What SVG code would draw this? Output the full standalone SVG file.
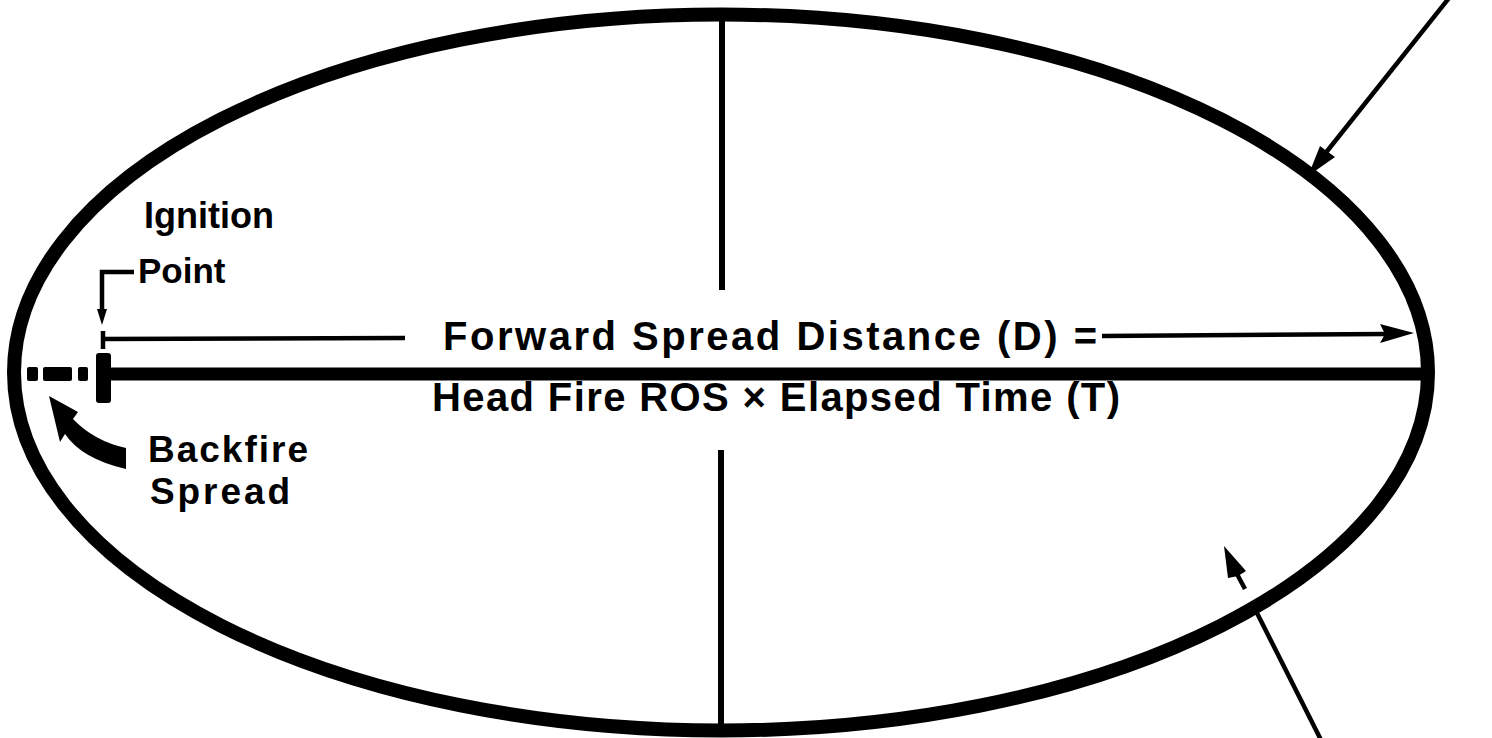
<svg xmlns="http://www.w3.org/2000/svg" width="1492" height="738" viewBox="0 0 1492 738">
  <style>
    .lbl { font-family: "Liberation Sans", Arial, sans-serif; font-weight: bold; fill: #000; }
    .thin { stroke: #000; stroke-width: 4.5; fill: none; }
    .axis { stroke: #000; stroke-width: 6; fill: none; }
  </style>
  <rect x="0" y="0" width="1492" height="738" fill="#fff"/>
  <g id="ellipse">
    <ellipse cx="721" cy="372.5" rx="707" ry="358" fill="none" stroke="#000" stroke-width="14"/>
  </g>
  <g id="minor-axis">
    <line class="axis" x1="722" y1="16" x2="722" y2="290"/>
    <line class="axis" x1="721" y1="450" x2="721" y2="728"/>
  </g>
  <g id="major-axis">
    <line x1="111" y1="374" x2="1428" y2="374" stroke="#000" stroke-width="13"/>
    <rect x="96" y="353" width="15" height="50" rx="3" fill="#000"/>
    <rect x="27" y="367" width="11" height="14" rx="2" fill="#000"/>
    <rect x="43" y="367" width="29" height="14" rx="2" fill="#000"/>
    <rect x="78" y="367" width="10" height="14" rx="2" fill="#000"/>
  </g>
  <g id="forward-distance">
    <line class="thin" x1="103" y1="339" x2="405" y2="338" stroke-width="3.5"/>
    <line class="thin" x1="103" y1="331" x2="103" y2="349" stroke-width="3.5"/>
    <line class="thin" x1="1102" y1="336" x2="1386" y2="334" stroke-width="3.5"/>
    <polygon points="1380,324 1414,333 1380,343 1385,334" fill="#000"/>
    <text class="lbl" x="443" y="350" font-size="40" textLength="654" lengthAdjust="spacing">Forward Spread Distance (D) =</text>
    <text class="lbl" x="432" y="411" font-size="40" textLength="688" lengthAdjust="spacing">Head Fire ROS × Elapsed Time (T)</text>
  </g>
  <g id="ignition-point">
    <polyline class="thin" points="134,272 102,272 102,312" stroke-width="3.5"/>
    <polygon points="97,309 107,309 102,325" fill="#000"/>
    <text class="lbl" x="144" y="228" font-size="36">Ignition</text>
    <text class="lbl" x="138" y="283" font-size="35">Point</text>
  </g>
  <g id="backfire">
    <path d="M49,396 L78,412 L73,419 Q94,441 126,448 L126,469 Q82,459 65,434 L60,442 Z" fill="#000"/>
    <text class="lbl" x="148" y="462" font-size="37" textLength="160" lengthAdjust="spacing">Backfire</text>
    <text class="lbl" x="150" y="504" font-size="37" textLength="140" lengthAdjust="spacing">Spread</text>
  </g>
  <g id="connectors">
    <line class="thin" x1="1449" y1="-2" x2="1324" y2="155"/>
    <polygon points="1308,176 1320,146 1328,152 1335,157" fill="#000"/>
    <line class="thin" x1="1245" y1="589" x2="1237" y2="574"/>
    <polygon points="1224,546 1246,571 1238,576 1228,578" fill="#000"/>
    <line class="thin" x1="1257" y1="613" x2="1321" y2="740"/>
  </g>
</svg>
